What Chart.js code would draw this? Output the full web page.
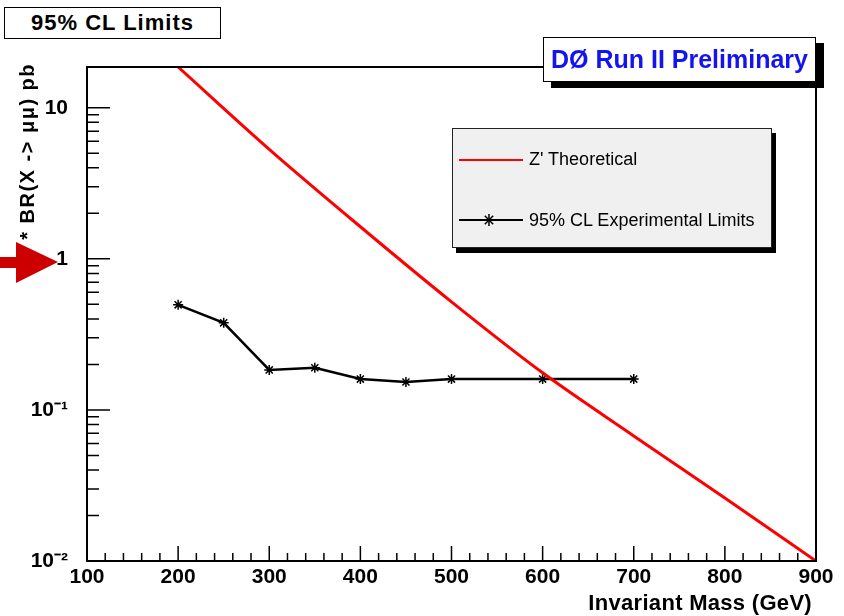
<!DOCTYPE html>
<html>
<head>
<meta charset="utf-8">
<script src="https://cdn.jsdelivr.net/npm/chart.js@4.4.0/dist/chart.umd.min.js"></script>
<style>
body { margin: 0; background: #fff; }
#wrap { position: relative; width: 844px; height: 616px; font-family: "Liberation Sans", Arial, sans-serif; color: #000; }
#chart { position: absolute; left: 0; top: 0; }
.box { position: absolute; background: #fff; border: 1px solid #000; box-sizing: border-box; text-align: center; font-weight: bold; }
#title { left: 4px; top: 7px; width: 217px; height: 32px; font-size: 22px; line-height: 30px; letter-spacing: 1px; }
#tag { left: 543px; top: 37px; width: 273px; height: 45px; font-size: 25px; line-height: 43px; color: #1414f0; box-shadow: 8px 6px 0 #000; }
#legend { position: absolute; left: 452px; top: 128px; width: 320px; height: 120px; box-sizing: border-box; background: #f0f0f0; border: 1px solid #222; box-shadow: 4px 5px 0 #000; }
.lg-line { position: absolute; height: 0; }
.lg-text { position: absolute; font-size: 18px; line-height: 20px; white-space: nowrap; }
#ylabel { position: absolute; left: 17px; top: 262px; transform: rotate(-90deg); transform-origin: 0 0; white-space: nowrap; font-weight: bold; font-size: 20px; line-height: 20px; letter-spacing: 1.5px; }
#xlabel { position: absolute; right: 32px; top: 590px; font-weight: bold; font-size: 22px; line-height: 26px; letter-spacing: 0.3px; white-space: nowrap; }
#arrow { position: absolute; left: 0; top: 0; }
</style>
</head>
<body>
<div id="wrap">
  <canvas id="chart" width="844" height="616"></canvas>
  <div id="ylabel">σ * BR(X -&gt; μμ) pb</div>
  <svg id="arrow" width="70" height="300">
    <polygon points="0,257 16,257 16,242 58,262 16,283 16,268 0,268" fill="#cc0000"/>
  </svg>
  <div id="xlabel">Invariant Mass (GeV)</div>
  <div id="title" class="box">95% CL Limits</div>
  <div id="tag" class="box">DØ Run II Preliminary</div>
  <div id="legend">
    <div class="lg-line" style="left:6px;top:30px;width:64px;border-top:2px solid #ff0000"></div>
    <div class="lg-text" style="left:76px;top:20px">Z' Theoretical</div>
    <div class="lg-line" style="left:6px;top:90px;width:64px;border-top:2px solid #000"></div>
    <svg style="position:absolute;left:30px;top:85px" width="12" height="12">
      <g stroke="#000" stroke-width="1.5">
        <line x1="6" y1="0" x2="6" y2="12"/><line x1="0" y1="6" x2="12" y2="6"/>
        <line x1="1.8" y1="1.8" x2="10.2" y2="10.2"/><line x1="10.2" y1="1.8" x2="1.8" y2="10.2"/>
      </g>
    </svg>
    <div class="lg-text" style="left:76px;top:81px">95% CL Experimental Limits</div>
  </div>
</div>
<script>
// Z' theory curve and measured 95% CL limits (pb)
const theoryMass = [200, 300, 400, 500, 600, 700, 800, 900];
const theorySigma = [18.6, 5.3, 1.63, 0.519, 0.176, 0.0673, 0.0261, 0.01];
const limitMass = [200, 250, 300, 350, 400, 450, 500, 600, 700];
const limitSigma = [0.496, 0.377, 0.184, 0.190, 0.160, 0.153, 0.160, 0.160, 0.160];

const xTicks = [100, 200, 300, 400, 500, 600, 700, 800, 900];
const yTicks = [0.01, 0.1, 1, 10];
const yTickLabels = ['10⁻²', '10⁻¹', '1', '10'];

// ROOT style frame: box + ticks pointing inwards
const rootFrame = {
    id: 'rootFrame',
    afterDraw(chart) {
        const { ctx, chartArea: a, scales: { x, y } } = chart;
        ctx.save();
        ctx.strokeStyle = '#000';
        ctx.lineWidth = 1.5;
        ctx.beginPath();
        for (let v = x.min; v <= x.max; v += 20) {
            const px = x.getPixelForValue(v);
            const len = v % 100 === 0 ? 15 : 8;
            ctx.moveTo(px, a.bottom);
            ctx.lineTo(px, a.bottom - len);
        }
        for (let d = -2; d <= 1; d++) {
            for (let k = 1; k <= 9; k++) {
                const v = k * Math.pow(10, d);
                if (v < y.min * 0.999 || v > y.max) continue;
                const py = y.getPixelForValue(v);
                const len = k === 1 ? 23 : 12;
                ctx.moveTo(a.left, py);
                ctx.lineTo(a.left + len, py);
            }
        }
        ctx.stroke();
        ctx.lineWidth = 2;
        ctx.strokeRect(a.left, a.top, a.right - a.left, a.bottom - a.top);
        ctx.restore();
    }
};

const ctx = document.getElementById('chart').getContext('2d');
const chart = new Chart(ctx, {
    type: 'line',
    data: {
        datasets: [{
            label: "Z' Theoretical",
            data: theoryMass.map((m, i) => ({ x: m, y: theorySigma[i] })),
            borderColor: '#ff0000',
            borderWidth: 3,
            pointRadius: 0,
            cubicInterpolationMode: 'monotone'
        }, {
            label: '95% CL Experimental Limits',
            data: limitMass.map((m, i) => ({ x: m, y: limitSigma[i] })),
            borderColor: '#000',
            borderWidth: 2.5,
            pointStyle: 'star',
            pointRadius: 5,
            pointBorderWidth: 1.5,
            pointBorderColor: '#000',
            pointBackgroundColor: '#000'
        }]
    },
    options: {
        responsive: false,
        animation: false,
        layout: { padding: { top: 67, right: 28, left: 0, bottom: 0 } },
        plugins: { legend: { display: false }, tooltip: { enabled: false } },
        scales: {
            x: {
                type: 'linear', min: 100, max: 900,
                grid: { display: false, drawTicks: false },
                border: { display: false },
                afterBuildTicks: s => { s.ticks = xTicks.map(v => ({ value: v })); },
                afterFit: s => { s.height = 55; },
                ticks: {
                    color: '#000', padding: 4, maxRotation: 0, autoSkip: false,
                    font: { family: 'Liberation Sans', size: 21, weight: 'bold' }
                }
            },
            y: {
                type: 'logarithmic', min: 0.01, max: 18.6,
                grid: { display: false, drawTicks: false },
                border: { display: false },
                afterBuildTicks: s => { s.ticks = yTicks.map(v => ({ value: v })); },
                afterFit: s => { s.width = 87; },
                ticks: {
                    color: '#000', padding: 19, autoSkip: false,
                    font: { family: 'Liberation Sans', size: 21, weight: 'bold' },
                    callback: (v, i) => yTickLabels[i]
                }
            }
        }
    },
    plugins: [rootFrame]
});
</script>
</body>
</html>
